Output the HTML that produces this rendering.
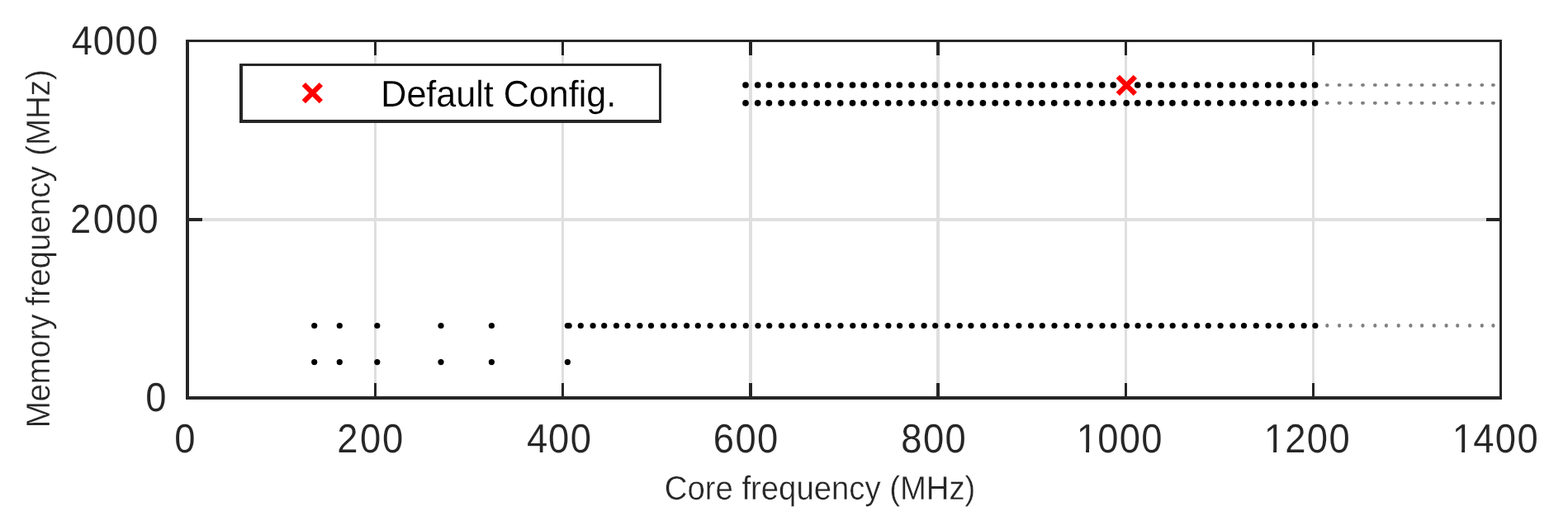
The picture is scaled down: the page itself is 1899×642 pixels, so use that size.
<!DOCTYPE html>
<html lang="en"><head><meta charset="utf-8">
<style>html,body{margin:0;padding:0;background:#fff;overflow:hidden}svg{display:block}text{font-family:"Liberation Sans","DejaVu Sans",sans-serif;fill:#262626;text-rendering:geometricPrecision}.tick{font-size:49.1px;letter-spacing:1.46px;stroke:#fff;stroke-width:0.1}.lab{font-size:40.5px;stroke:#fff;stroke-width:0.35}.leg{font-size:44.7px;fill:#000;stroke:#fff;stroke-width:0.15}</style></head><body>
<svg width="1899" height="642" viewBox="0 0 1899 642">
<rect x="0" y="0" width="1899" height="642" fill="#fff"/>
<g fill="#dfdfdf" shape-rendering="crispEdges">
<rect x="453" y="51" width="3" height="429"/>
<rect x="680" y="51" width="3" height="429"/>
<rect x="907" y="51" width="4" height="429"/>
<rect x="1134" y="51" width="4" height="429"/>
<rect x="1362" y="51" width="3" height="429"/>
<rect x="1589" y="51" width="3" height="429"/>
<rect x="229" y="264" width="1587" height="4"/>
</g>
<g fill="#000">
<circle cx="903.0" cy="103.0" r="3.85"/>
<circle cx="903.0" cy="124.8" r="3.85"/>
<circle cx="917.7" cy="103.0" r="3.85"/>
<circle cx="917.7" cy="124.8" r="3.85"/>
<circle cx="931.4" cy="103.0" r="3.85"/>
<circle cx="931.4" cy="124.8" r="3.85"/>
<circle cx="946.1" cy="103.0" r="3.85"/>
<circle cx="946.1" cy="124.8" r="3.85"/>
<circle cx="959.8" cy="103.0" r="3.85"/>
<circle cx="959.8" cy="124.8" r="3.85"/>
<circle cx="974.5" cy="103.0" r="3.85"/>
<circle cx="974.5" cy="124.8" r="3.85"/>
<circle cx="989.3" cy="103.0" r="3.85"/>
<circle cx="989.3" cy="124.8" r="3.85"/>
<circle cx="1002.9" cy="103.0" r="3.85"/>
<circle cx="1002.9" cy="124.8" r="3.85"/>
<circle cx="1017.7" cy="103.0" r="3.85"/>
<circle cx="1017.7" cy="124.8" r="3.85"/>
<circle cx="1032.5" cy="103.0" r="3.85"/>
<circle cx="1032.5" cy="124.8" r="3.85"/>
<circle cx="1046.1" cy="103.0" r="3.85"/>
<circle cx="1046.1" cy="124.8" r="3.85"/>
<circle cx="1060.9" cy="103.0" r="3.85"/>
<circle cx="1060.9" cy="124.8" r="3.85"/>
<circle cx="1075.6" cy="103.0" r="3.85"/>
<circle cx="1075.6" cy="124.8" r="3.85"/>
<circle cx="1089.3" cy="103.0" r="3.85"/>
<circle cx="1089.3" cy="124.8" r="3.85"/>
<circle cx="1104.0" cy="103.0" r="3.85"/>
<circle cx="1104.0" cy="124.8" r="3.85"/>
<circle cx="1118.8" cy="103.0" r="3.85"/>
<circle cx="1118.8" cy="124.8" r="3.85"/>
<circle cx="1132.4" cy="103.0" r="3.85"/>
<circle cx="1132.4" cy="124.8" r="3.85"/>
<circle cx="1147.2" cy="103.0" r="3.85"/>
<circle cx="1147.2" cy="124.8" r="3.85"/>
<circle cx="1162.0" cy="103.0" r="3.85"/>
<circle cx="1162.0" cy="124.8" r="3.85"/>
<circle cx="1175.6" cy="103.0" r="3.85"/>
<circle cx="1175.6" cy="124.8" r="3.85"/>
<circle cx="1190.4" cy="103.0" r="3.85"/>
<circle cx="1190.4" cy="124.8" r="3.85"/>
<circle cx="1205.2" cy="103.0" r="3.85"/>
<circle cx="1205.2" cy="124.8" r="3.85"/>
<circle cx="1218.8" cy="103.0" r="3.85"/>
<circle cx="1218.8" cy="124.8" r="3.85"/>
<circle cx="1233.6" cy="103.0" r="3.85"/>
<circle cx="1233.6" cy="124.8" r="3.85"/>
<circle cx="1248.3" cy="103.0" r="3.85"/>
<circle cx="1248.3" cy="124.8" r="3.85"/>
<circle cx="1262.0" cy="103.0" r="3.85"/>
<circle cx="1262.0" cy="124.8" r="3.85"/>
<circle cx="1276.7" cy="103.0" r="3.85"/>
<circle cx="1276.7" cy="124.8" r="3.85"/>
<circle cx="1291.5" cy="103.0" r="3.85"/>
<circle cx="1291.5" cy="124.8" r="3.85"/>
<circle cx="1305.1" cy="103.0" r="3.85"/>
<circle cx="1305.1" cy="124.8" r="3.85"/>
<circle cx="1319.9" cy="103.0" r="3.85"/>
<circle cx="1319.9" cy="124.8" r="3.85"/>
<circle cx="1334.7" cy="103.0" r="3.85"/>
<circle cx="1334.7" cy="124.8" r="3.85"/>
<circle cx="1348.3" cy="103.0" r="3.85"/>
<circle cx="1348.3" cy="124.8" r="3.85"/>
<circle cx="1364.2" cy="103.0" r="3.85"/>
<circle cx="1364.2" cy="124.8" r="3.85"/>
<circle cx="1377.8" cy="103.0" r="3.85"/>
<circle cx="1377.8" cy="124.8" r="3.85"/>
<circle cx="1391.5" cy="103.0" r="3.85"/>
<circle cx="1391.5" cy="124.8" r="3.85"/>
<circle cx="1406.2" cy="103.0" r="3.85"/>
<circle cx="1406.2" cy="124.8" r="3.85"/>
<circle cx="1419.9" cy="103.0" r="3.85"/>
<circle cx="1419.9" cy="124.8" r="3.85"/>
<circle cx="1434.6" cy="103.0" r="3.85"/>
<circle cx="1434.6" cy="124.8" r="3.85"/>
<circle cx="1449.4" cy="103.0" r="3.85"/>
<circle cx="1449.4" cy="124.8" r="3.85"/>
<circle cx="1463.0" cy="103.0" r="3.85"/>
<circle cx="1463.0" cy="124.8" r="3.85"/>
<circle cx="1477.8" cy="103.0" r="3.85"/>
<circle cx="1477.8" cy="124.8" r="3.85"/>
<circle cx="1492.6" cy="103.0" r="3.85"/>
<circle cx="1492.6" cy="124.8" r="3.85"/>
<circle cx="1506.2" cy="103.0" r="3.85"/>
<circle cx="1506.2" cy="124.8" r="3.85"/>
<circle cx="1521.0" cy="103.0" r="3.85"/>
<circle cx="1521.0" cy="124.8" r="3.85"/>
<circle cx="1535.8" cy="103.0" r="3.85"/>
<circle cx="1535.8" cy="124.8" r="3.85"/>
<circle cx="1549.4" cy="103.0" r="3.85"/>
<circle cx="1549.4" cy="124.8" r="3.85"/>
<circle cx="1564.2" cy="103.0" r="3.85"/>
<circle cx="1564.2" cy="124.8" r="3.85"/>
<circle cx="1578.9" cy="103.0" r="3.85"/>
<circle cx="1578.9" cy="124.8" r="3.85"/>
<circle cx="1592.6" cy="103.0" r="3.85"/>
<circle cx="1592.6" cy="124.8" r="3.85"/>
<circle cx="380.7" cy="394.5" r="3.6"/>
<circle cx="380.7" cy="438.6" r="3.6"/>
<circle cx="411.3" cy="394.5" r="3.6"/>
<circle cx="411.3" cy="438.6" r="3.6"/>
<circle cx="456.8" cy="394.5" r="3.6"/>
<circle cx="456.8" cy="438.6" r="3.6"/>
<circle cx="534.0" cy="394.5" r="3.6"/>
<circle cx="534.0" cy="438.6" r="3.6"/>
<circle cx="595.4" cy="394.5" r="3.6"/>
<circle cx="595.4" cy="438.6" r="3.6"/>
<circle cx="687.4" cy="394.5" r="3.6"/>
<circle cx="687.4" cy="438.6" r="3.6"/>
<circle cx="689.2" cy="394.5" r="3.6"/>
<circle cx="703.3" cy="394.5" r="3.6"/>
<circle cx="718.1" cy="394.5" r="3.6"/>
<circle cx="731.7" cy="394.5" r="3.6"/>
<circle cx="746.5" cy="394.5" r="3.6"/>
<circle cx="760.1" cy="394.5" r="3.6"/>
<circle cx="774.9" cy="394.5" r="3.6"/>
<circle cx="788.5" cy="394.5" r="3.6"/>
<circle cx="803.3" cy="394.5" r="3.6"/>
<circle cx="816.9" cy="394.5" r="3.6"/>
<circle cx="831.7" cy="394.5" r="3.6"/>
<circle cx="845.3" cy="394.5" r="3.6"/>
<circle cx="860.1" cy="394.5" r="3.6"/>
<circle cx="874.9" cy="394.5" r="3.6"/>
<circle cx="888.5" cy="394.5" r="3.6"/>
<circle cx="903.3" cy="394.5" r="3.6"/>
<circle cx="918.0" cy="394.5" r="3.6"/>
<circle cx="931.7" cy="394.5" r="3.6"/>
<circle cx="946.4" cy="394.5" r="3.6"/>
<circle cx="960.1" cy="394.5" r="3.6"/>
<circle cx="974.8" cy="394.5" r="3.6"/>
<circle cx="989.6" cy="394.5" r="3.6"/>
<circle cx="1003.2" cy="394.5" r="3.6"/>
<circle cx="1018.0" cy="394.5" r="3.6"/>
<circle cx="1032.8" cy="394.5" r="3.6"/>
<circle cx="1046.4" cy="394.5" r="3.6"/>
<circle cx="1061.2" cy="394.5" r="3.6"/>
<circle cx="1075.9" cy="394.5" r="3.6"/>
<circle cx="1089.6" cy="394.5" r="3.6"/>
<circle cx="1104.3" cy="394.5" r="3.6"/>
<circle cx="1119.1" cy="394.5" r="3.6"/>
<circle cx="1132.7" cy="394.5" r="3.6"/>
<circle cx="1147.5" cy="394.5" r="3.6"/>
<circle cx="1162.3" cy="394.5" r="3.6"/>
<circle cx="1175.9" cy="394.5" r="3.6"/>
<circle cx="1190.7" cy="394.5" r="3.6"/>
<circle cx="1205.5" cy="394.5" r="3.6"/>
<circle cx="1219.1" cy="394.5" r="3.6"/>
<circle cx="1233.9" cy="394.5" r="3.6"/>
<circle cx="1248.6" cy="394.5" r="3.6"/>
<circle cx="1262.3" cy="394.5" r="3.6"/>
<circle cx="1277.0" cy="394.5" r="3.6"/>
<circle cx="1291.8" cy="394.5" r="3.6"/>
<circle cx="1305.4" cy="394.5" r="3.6"/>
<circle cx="1320.2" cy="394.5" r="3.6"/>
<circle cx="1335.0" cy="394.5" r="3.6"/>
<circle cx="1348.6" cy="394.5" r="3.6"/>
<circle cx="1364.5" cy="394.5" r="3.6"/>
<circle cx="1378.1" cy="394.5" r="3.6"/>
<circle cx="1391.8" cy="394.5" r="3.6"/>
<circle cx="1406.5" cy="394.5" r="3.6"/>
<circle cx="1420.2" cy="394.5" r="3.6"/>
<circle cx="1434.9" cy="394.5" r="3.6"/>
<circle cx="1449.7" cy="394.5" r="3.6"/>
<circle cx="1463.3" cy="394.5" r="3.6"/>
<circle cx="1478.1" cy="394.5" r="3.6"/>
<circle cx="1492.9" cy="394.5" r="3.6"/>
<circle cx="1506.5" cy="394.5" r="3.6"/>
<circle cx="1521.3" cy="394.5" r="3.6"/>
<circle cx="1536.1" cy="394.5" r="3.6"/>
<circle cx="1549.7" cy="394.5" r="3.6"/>
<circle cx="1564.5" cy="394.5" r="3.6"/>
<circle cx="1579.2" cy="394.5" r="3.6"/>
<circle cx="1592.9" cy="394.5" r="3.6"/>
</g>
<g fill="#808080">
<ellipse cx="1607.3" cy="103.0" rx="2.5" ry="2.1"/>
<ellipse cx="1607.3" cy="124.8" rx="2.5" ry="2.1"/>
<ellipse cx="1607.3" cy="394.4" rx="2.1" ry="2.4"/>
<ellipse cx="1622.1" cy="103.0" rx="2.5" ry="2.1"/>
<ellipse cx="1622.1" cy="124.8" rx="2.5" ry="2.1"/>
<ellipse cx="1622.1" cy="394.4" rx="2.1" ry="2.4"/>
<ellipse cx="1635.7" cy="103.0" rx="2.5" ry="2.1"/>
<ellipse cx="1635.7" cy="124.8" rx="2.5" ry="2.1"/>
<ellipse cx="1635.7" cy="394.4" rx="2.1" ry="2.4"/>
<ellipse cx="1650.5" cy="103.0" rx="2.5" ry="2.1"/>
<ellipse cx="1650.5" cy="124.8" rx="2.5" ry="2.1"/>
<ellipse cx="1650.5" cy="394.4" rx="2.1" ry="2.4"/>
<ellipse cx="1665.3" cy="103.0" rx="2.5" ry="2.1"/>
<ellipse cx="1665.3" cy="124.8" rx="2.5" ry="2.1"/>
<ellipse cx="1665.3" cy="394.4" rx="2.1" ry="2.4"/>
<ellipse cx="1678.9" cy="103.0" rx="2.5" ry="2.1"/>
<ellipse cx="1678.9" cy="124.8" rx="2.5" ry="2.1"/>
<ellipse cx="1678.9" cy="394.4" rx="2.1" ry="2.4"/>
<ellipse cx="1693.7" cy="103.0" rx="2.5" ry="2.1"/>
<ellipse cx="1693.7" cy="124.8" rx="2.5" ry="2.1"/>
<ellipse cx="1693.7" cy="394.4" rx="2.1" ry="2.4"/>
<ellipse cx="1708.4" cy="103.0" rx="2.5" ry="2.1"/>
<ellipse cx="1708.4" cy="124.8" rx="2.5" ry="2.1"/>
<ellipse cx="1708.4" cy="394.4" rx="2.1" ry="2.4"/>
<ellipse cx="1722.1" cy="103.0" rx="2.5" ry="2.1"/>
<ellipse cx="1722.1" cy="124.8" rx="2.5" ry="2.1"/>
<ellipse cx="1722.1" cy="394.4" rx="2.1" ry="2.4"/>
<ellipse cx="1736.8" cy="103.0" rx="2.5" ry="2.1"/>
<ellipse cx="1736.8" cy="124.8" rx="2.5" ry="2.1"/>
<ellipse cx="1736.8" cy="394.4" rx="2.1" ry="2.4"/>
<ellipse cx="1751.6" cy="103.0" rx="2.5" ry="2.1"/>
<ellipse cx="1751.6" cy="124.8" rx="2.5" ry="2.1"/>
<ellipse cx="1751.6" cy="394.4" rx="2.1" ry="2.4"/>
<ellipse cx="1765.2" cy="103.0" rx="2.5" ry="2.1"/>
<ellipse cx="1765.2" cy="124.8" rx="2.5" ry="2.1"/>
<ellipse cx="1765.2" cy="394.4" rx="2.1" ry="2.4"/>
<ellipse cx="1780.0" cy="103.0" rx="2.5" ry="2.1"/>
<ellipse cx="1780.0" cy="124.8" rx="2.5" ry="2.1"/>
<ellipse cx="1780.0" cy="394.4" rx="2.1" ry="2.4"/>
<ellipse cx="1794.8" cy="103.0" rx="2.5" ry="2.1"/>
<ellipse cx="1794.8" cy="124.8" rx="2.5" ry="2.1"/>
<ellipse cx="1794.8" cy="394.4" rx="2.1" ry="2.4"/>
<ellipse cx="1808.4" cy="103.0" rx="2.5" ry="2.1"/>
<ellipse cx="1808.4" cy="124.8" rx="2.5" ry="2.1"/>
<ellipse cx="1808.4" cy="394.4" rx="2.1" ry="2.4"/>
</g>
<g fill="#262626" shape-rendering="crispEdges">
<rect x="225" y="48" width="1594" height="3"/>
<rect x="225" y="480" width="1594" height="4"/>
<rect x="225" y="48" width="4" height="436"/>
<rect x="1816" y="48" width="3" height="436"/>
<rect x="453" y="51" width="3" height="16"/>
<rect x="453" y="464" width="3" height="16"/>
<rect x="680" y="51" width="3" height="16"/>
<rect x="680" y="464" width="3" height="16"/>
<rect x="907" y="51" width="4" height="16"/>
<rect x="907" y="464" width="4" height="16"/>
<rect x="1134" y="51" width="4" height="16"/>
<rect x="1134" y="464" width="4" height="16"/>
<rect x="1362" y="51" width="3" height="16"/>
<rect x="1362" y="464" width="3" height="16"/>
<rect x="1589" y="51" width="3" height="16"/>
<rect x="1589" y="464" width="3" height="16"/>
<rect x="229" y="264" width="16" height="4"/>
<rect x="1800" y="264" width="16" height="4"/>
</g>
<path d="M1353.85 92.90L1374.85 113.90M1353.85 113.90L1374.85 92.90" stroke="#ff0000" stroke-width="6.1" fill="none" stroke-linecap="butt"/>
<rect x="292" y="78.5" width="507.5" height="68.5" fill="#fff" stroke="none"/>
<g fill="#262626" shape-rendering="crispEdges">
<rect x="290" y="77" width="511" height="3"/>
<rect x="290" y="145" width="511" height="4"/>
<rect x="290" y="77" width="4" height="72"/>
<rect x="798" y="77" width="3" height="72"/>
</g>
<path d="M367.85 102.20L388.85 123.20M367.85 123.20L388.85 102.20" stroke="#ff0000" stroke-width="6.1" fill="none" stroke-linecap="butt"/>
<text class="leg" transform="translate(461.27 128.90) scale(0.964 1)">Default Config.</text>
<text class="tick" transform="translate(211.28 548.00) scale(0.925 1)">0</text>
<text class="tick" transform="translate(408.18 548.00) scale(0.925 1)" dx="0 1.2 0.6">200</text>
<text class="tick" transform="translate(638.01 548.00) scale(0.925 1)" dx="0 -0.6">400</text>
<text class="tick" transform="translate(863.79 548.00) scale(0.925 1)">600</text>
<text class="tick" transform="translate(1091.30 548.00) scale(0.925 1)">800</text>
<g transform="translate(1303.64 548.00) scale(0.925 1)"><text class="tick" dx="0 -1.2">1000</text><rect x="2.24" y="-4.27" width="10.16" height="5.27" fill="#fff"/><rect x="16.64" y="-4.27" width="9.72" height="5.27" fill="#fff"/></g>
<g transform="translate(1530.69 548.00) scale(0.925 1)"><text class="tick" dx="0 -1.2">1200</text><rect x="2.24" y="-4.27" width="10.16" height="5.27" fill="#fff"/><rect x="16.64" y="-4.27" width="9.72" height="5.27" fill="#fff"/></g>
<g transform="translate(1758.68 548.00) scale(0.925 1)"><text class="tick" dx="0 -1.2">1400</text><rect x="2.24" y="-4.27" width="10.16" height="5.27" fill="#fff"/><rect x="16.64" y="-4.27" width="9.72" height="5.27" fill="#fff"/></g>
<text class="tick" transform="translate(86.66 66.00) scale(0.925 1)" dx="0 -0.6">4000</text>
<text class="tick" transform="translate(85.02 282.00) scale(0.925 1)" dx="0 1.2 0.6">2000</text>
<text class="tick" transform="translate(176.20 498.00) scale(0.925 1)">0</text>
<text class="lab" transform="translate(804.86 605.10) scale(0.945 1)">Core frequency (MHz)</text>
<text class="lab" transform="translate(60.10 518.21) rotate(-90) scale(0.95 1)" dx="0 -0.26 -0.26 -0.26 -0.26 -0.26 0 -0.65 0 0 0 0 0 0 0 0 0.85 1.1">Memory frequency (MHz)</text>
</svg></body></html>
